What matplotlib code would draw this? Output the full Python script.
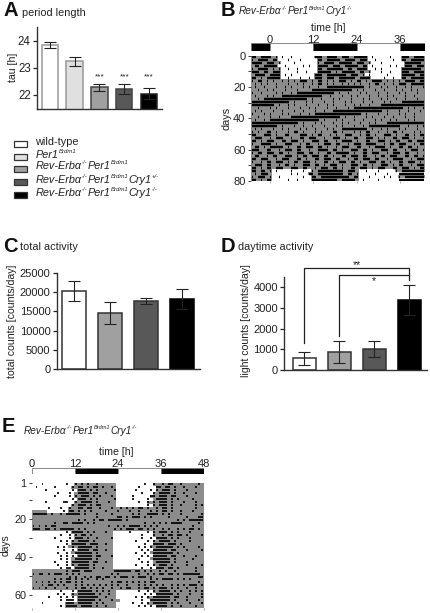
"""Period length, activity bars and actograms, five panels."""

import re

import matplotlib

matplotlib.use("Agg")
import matplotlib.pyplot as plt
from matplotlib.colors import ListedColormap
from matplotlib.patches import Rectangle

plt.rcParams["font.family"] = ["Liberation Sans", "DejaVu Sans"]
plt.rcParams["font.size"] = 8

W, H = 430, 613

GENOTYPES = [
    "wild-type",
    "Per1^{Brdm1}",
    "Rev-Erbα^{-/-}Per1^{Brdm1}",
    "Rev-Erbα^{-/-}Per1^{Brdm1}Cry1^{+/-}",
    "Rev-Erbα^{-/-}Per1^{Brdm1}Cry1^{-/-}",
]
COLORS = ["white", "#e0e0e0", "#a0a0a0", "#585858", "black"]
ACTOGRAM_TITLE = "Rev-Erbα^{-/-}Per1^{Brdm1}Cry1^{-/-}"

TAU = [23.83, 23.23, 22.27, 22.2, 22.04]
TAU_ERR = [0.12, 0.18, 0.12, 0.18, 0.2]
TAU_TICKS = [22, 23, 24]
TAU_STARS = ["", "", "***", "***", "***"]

TOTAL = [20400, 14700, 17700, 18200]
TOTAL_ERR = [2700, 2900, 700, 2600]
TOTAL_TICKS = [0, 5000, 10000, 15000, 20000, 25000]

LIGHT = [560, 880, 1020, 3380]
LIGHT_ERR = [300, 520, 370, 740]
LIGHT_TICKS = [0, 1000, 2000, 3000, 4000]

BAR_COLORS_4 = ["white", "#a0a0a0", "#585858", "black"]

B_HOURS = [0, 12, 24, 36]
B_DAYS = [0, 20, 40, 60, 80]
B_LD = [(-5.3, 0, "black"), (0, 12, "white"), (12, 24, "black"), (24, 36, "white"), (36, 42.9, "black")]

E_HOURS = [0, 12, 24, 36, 48]
E_DAYS = [1, 20, 40, 60]
E_LD = [(0, 12, "white"), (12, 24, "black"), (24, 36, "white"), (36, 48, "black")]

# hand read actograms, # activity, - gray background, . light phase without activity
B_ROWS = [
    "##-####-#.#..#.......###-####-###-#####.#.....#...###-####",
    "#-####-##...#...#.....##-#####-####-###..#.....#..##-#####",
    "####-###-#....#.......#-####-#####-###-#...#.......######-",
    "-##-#####..#.....#.#..####-###-#####-##.#.....#.#..###-###",
    "#-####-#-#..#..#......##-######-##-####..#.#......#######-",
    "###-##-###.....#..#...#####-#-#####-##-#...#..#...###-####",
    "-####-####.#.#.......###-#######-###-#.#.....#....#####-##",
    "##-#-#####..#...#..#.###-###-######-####....#..#..##-#####",
    "#-##-#-#--#-#-#-###-#-##-#-#-###-#-##-#-####-#-#-#-####-##",
    "-#-#-#--#---#--#-#--#-##-#-#--#-#-#-#--#-##-#--#-###-#####",
    "-#--#---#--#-#---#-#--#--#############-#---#-#--#--#-#---#",
    "--#--#-#---#---#----##############-#-#---#--#---#-#--#-#-",
    "#--#----#-#--#-#############-#--#---#-#---#--#---#-#---#-",
    "-#---#-#--##############--#---#--#-#---#--#--#-#---#--#---",
    "--#-###############-#--#---#-#---#---#-#---#-#--#--#---#",
    "#############-#---#-#---#--#---#-#---#--#---#-#---#########",
    "########-#--#-#---#---#--#-#---#--#-#--#---################",
    "--#---#-#---#---#--#-#---#--#---#-#################-#-#--#",
    "-#-#---#--#---#--#---#--#--#################-#---#--#---#-",
    "#---#-#---#-#---#--#-################-#---#--#---#-#--#---",
    "--#---#--#---#################-#--#---#-#---#--#---#--#---",
    "-#--#-#################-#---#-#---#--#---#-#--#-#---#-#--",
    "################-#---#-#---#--#-#---#--#-#---#############",
    "#########-#---#--#--#---#---#-#---#--#-###########--#--#-#",
    "-#-#---#--#-#---#-#--#---#-#--#########-#--#-#---#-#---#--",
    "#-#--##-#---#-##-#---#-#---##-#---#-#-##--#--#-##-#---#-#-",
    "##--###-#--##---###-#-##--#-#--###--#-##-#--###-#--##-#-##",
    "-###--#-###--#--##-###--#--###-#--##--###-#-#--##-###-#--#",
    "##-#-###--##-###-#--###-##--#-####-#--##--###-#-##--##-###",
    "#--####-#--###--#-##--#-###-##--#-###-####--#-##-###--#-##",
    "-##-#-#####-#--##-###-##-#--#-###--##--#-####-#--##-##-#--",
    "###--##--#-###-##--#--####-##-#--###-##-#--###-##--#-###-#",
    "#-##-###-##-#--###-##-#--##-#####-#--##-###--#-###-##--#--",
    "-##--#-##--###-#-##-###-##-#--##-###-##--#-##-###--##-##-#",
    "##-###--#-###--##-#--##-###-##--#-##-###-##--#-####--#-###",
    "#--#-##-###-#-##-###-#--##-#-###-##-#--###-##-#--##-###-#-",
    "-###-##--#-##-#--###-##-#-###-#--###-##-#--###-#-##--#-###",
    "##-#-##-###--###-##--#-###-##-#--##-###-#-###--##-###-#-##",
    "##-##-#.#....#...#..#-#########-###-..#...#.....#-########",
    "-#-###-......#.#...##-#########-##-#.....#...#...#########",
    "#-###-#..#.......#..##-##########-##...#....#.#..#-#######",
    "##-#-##.....#..#....#########-#####-.#....#......#########",
]

E_ROWS = [
    "...#.......#..#-#-#--#------.........#..#--#-##--#-----#-",
    ".#.....#.....#-##-#-##-#--#-.......#.....##-##-#--#---#--",
    "....#........#.###-#-#-----#......#....#.#-###-#---#-----",
    "........#...#.-####-##--#---........#...#-####-#--#---#--",
    ".......#....#.#-###-#-#---#-.....#.....##-###-##---#-----",
    ".............#.###-#-#-----#.....#....#.-####-#-#----#---",
    "....#.....##..#-####-#---#--.......#..#-#-###-#---#---#--",
    ".............#-###-#-##-----..........#.#-###-#--#----#-#",
    ".....#...#..#--##-##--#---#--#-#-#-##-#--#-##-#-------#--",
    "-----.....#.##-#-#-#----#---#---#--#---#-#-##-#--#---#---",
    "#####-#--#-#####-#---#----#------#-#--####-#-#---#------#",
    "---------------------#------##-#-###-#-#-----#-----#---##",
    "---------------#-#--#-##-#####-#----------------#-#-#####",
    "-------#--##-####-#-#----------------#--#-#-#-####-----#-",
    "#-#-#-##-----------------#--#-#-####-#-#-#-----------#---",
    "###-##-#-#####-#-#---------#-#-###-##-#-#--#-#--#-#-##-#-",
    "...........#.####-#-#---#--.....#.....#.#-###-#-#---#----",
    ".........#..#.#-##-#-------.........#...#--#-##-##-#----#",
    ".......#....#.###-#--#----#.........#..#.####-#-#---#----",
    ".........#.#.#-####-#------.......#...#.#-####-#----#----",
    "...........#.#####-###--#--..........#..####-###-#-------",
    "........#.#.-#-#####-#-----........#.#.#-######-#-#----#-",
    "..........#..#.####-##--#--.........#.#.#####-##---#----#",
    "........#..#.-######-#-----.......#..#.-#######-#--------",
    ".........#.#.#.#####-##---#.........#.#.#####-##--#---#--",
    ".........#.#.-######-#-----........#...-######-#-----#---",
    ".......#...#.######-##--#--.........#.#.-#####-#---#-----",
    "........#..#.#-####-#------.......#...#.#-###-#----#----#",
    ".........#.##.#####-#--#---.........#..#.###-##-#-----#--",
    "-----------#-###-###-------######-##-#-#--#-#--#------#---",
    "#-##-#-###-#-#-#----------#-#------#--#-#-##-##-#-######-",
    "------------#-#--#-#-##-##-#-###-#-###-#---------------##",
    "-------#-#-##-#-#-#--#-#---------------#-#-####-#-#-#----",
    "-#-#-#-#-#-##-#-#---------#-##-#-#-#-#-##--------------#-",
    "---#-##-#-#---#-#-#-#-#-#-#-#--#---#-#-#-#-#--#-#-#-###-#",
    "#-#-#--#---#--#-##-#-#-#--#--#-##--#-##-#-###-#-#--#--#--",
    ".........#...#.#####-#-#-#--.......#..#.#-####-#-#--#-#-#",
    "........#.#..#-######-#--#--.........#.#.######-#---#---#",
    ".....#...#.#.#.#######--#---......#.#.#-######-##--#----#",
    ".........#.###.######-#---#--.......#..#######-#---#---#-",
    "...#.......###-#####-#-#----.....#..#.#-#####-#-#---#---#",
    ".........#.####-####-#--#---.......#.#.#.####-#--#----#--",
]

ACTO_CMAP = ListedColormap(["white", "#8c8c8c"])


def px_axes(fig, left, top, right, bottom):
    return fig.add_axes(
        [left / W, 1 - bottom / H, (right - left) / W, (bottom - top) / H]
    )


def rich_text(ax, renderer, x, y, name, size, color="#222222"):
    """Italic text with small superscripts, set piece by piece."""
    parts = re.split(r"\^\{(.*?)\}", name)
    for i, part in enumerate(parts):
        if not part:
            continue
        sup = i % 2 == 1
        t = ax.text(
            x, y - 3.2 if sup else y, part,
            fontsize=size * 0.56 if sup else size,
            style="italic", va="center", ha="left", color=color,
        )
        x += t.get_window_extent(renderer).width + 0.2


def bar_panel(ax, values, errors, colors, edges, ticks, xlim, ylim, ylabel, labelsize=8, labelpad=1):
    x = list(range(len(values)))
    ax.bar(x, values, width=0.66, color=colors, edgecolor=edges, linewidth=1.1, zorder=2)
    ax.errorbar(
        x, values, yerr=errors, fmt="none", ecolor="#222222",
        elinewidth=0.8, capsize=4.2, capthick=0.8, zorder=3,
    )
    ax.set_xlim(*xlim)
    ax.set_ylim(*ylim)
    ax.set_xticks([])
    ax.set_yticks(ticks)
    ax.tick_params(axis="y", length=3, width=0.9, pad=1.5, labelsize=labelsize, colors="#222222")
    ax.spines[["top", "right"]].set_visible(False)
    ax.spines[["left", "bottom"]].set_linewidth(1.0)
    ax.spines[["left", "bottom"]].set_color("#333333")
    ax.set_ylabel(ylabel, fontsize=7.6, labelpad=labelpad, color="#222222")
    ax.patch.set_alpha(0)


def actogram(ax, rows, extent, dash_px):
    width = len(rows[0])
    rows = [row.ljust(width, "-")[:width] for row in rows]
    xmin, xmax, ymax, ymin = extent
    cell_x = (xmax - xmin) / width
    cell_y = (ymax - ymin) / len(rows)

    background = []
    for row in rows:
        cells = []
        for col, c in enumerate(row):
            if c == "#":
                # an activity dash sits on the phase around it
                left = row[:col].replace("#", "")[-1:]
                right = row[col + 1:].replace("#", "")[:1]
                c = "." if "." in (left, right) and "-" not in (left, right) else "-"
            cells.append(0 if c == "." else 1)
        background.append(cells)
    ax.imshow(background, cmap=ACTO_CMAP, vmin=0, vmax=1, aspect="auto", extent=extent, interpolation="nearest")

    for r, row in enumerate(rows):
        for match in re.finditer("#+", row):
            ax.hlines(
                ymin + (r + 0.5) * cell_y,
                xmin + (match.start() + 0.18) * cell_x,
                xmin + (match.end() - 0.18) * cell_x,
                color="black", linewidth=dash_px * 0.72, capstyle="butt",
            )
    ax.set_xlim(xmin, xmax)
    ax.set_ylim(ymax, ymin)
    for side in ["top", "right", "left", "bottom"]:
        ax.spines[side].set_visible(False)
    ax.tick_params(axis="x", which="both", length=1.5, width=0.5, color="#888888", labelbottom=False)


def ld_bar(ax, segments, hours, xlim, pad):
    for start, end, color in segments:
        ax.barh(0, end - start, left=start, height=1, color=color, edgecolor="#777777", linewidth=0.6)
    ax.set_xlim(*xlim)
    ax.set_ylim(-0.5, 0.5)
    ax.set_yticks([])
    ax.set_xticks(hours)
    ax.xaxis.tick_top()
    ax.tick_params(axis="x", length=0, pad=pad, labelsize=8, colors="#222222")
    for side in ["top", "right", "left", "bottom"]:
        ax.spines[side].set_visible(False)


def main():
    fig = plt.figure(figsize=(W / 100, H / 100), dpi=100)
    renderer = fig.canvas.get_renderer()

    overlay = fig.add_axes([0, 0, 1, 1])
    overlay.set_xlim(0, W)
    overlay.set_ylim(H, 0)
    overlay.axis("off")

    # panel letters and headings
    for letter, lx, ly in [("A", 4, 11), ("B", 221, 11), ("C", 3, 246), ("D", 221, 246), ("E", 2, 427)]:
        overlay.text(lx, ly, letter, fontsize=14.5, fontweight="bold", va="center", ha="left", color="#111111")
    for title, tx, ty in [("period length", 21.5, 12.5), ("total activity", 20, 247), ("daytime activity", 238.5, 247)]:
        overlay.text(tx, ty, title, fontsize=7.8, va="center", ha="left", color="#222222")
    rich_text(overlay, renderer, 239, 11.5, ACTOGRAM_TITLE, 7.2)
    rich_text(overlay, renderer, 24, 430.5, ACTOGRAM_TITLE, 7.2)
    overlay.text(328, 28, "time [h]", fontsize=7.6, va="center", ha="center", color="#222222")
    overlay.text(116.5, 452, "time [h]", fontsize=7.6, va="center", ha="center", color="#222222")

    # legend
    for name, color, by, ty in zip(GENOTYPES, COLORS, [144, 157, 169, 182, 195], [142, 154.5, 166, 180, 193]):
        overlay.add_patch(Rectangle((13.5, by - 3.3), 13, 6.6, facecolor=color, edgecolor="#333333", linewidth=0.9))
        if name == "wild-type":
            overlay.text(35.5, ty, name, fontsize=7.8, va="center", ha="left", color="#222222")
        else:
            rich_text(overlay, renderer, 35.5, ty, name, 7.8)

    # A
    ax = px_axes(fig, 37, 27, 162, 108.5)
    edges = ["#999999", "#999999", "#444444", "#444444", "#222222"]
    bar_panel(ax, TAU, TAU_ERR, COLORS, edges, TAU_TICKS, (-0.516, 4.52), (21.49, 24.5), "tau [h]", labelsize=8.3, labelpad=-0.2)
    for i, stars in enumerate(TAU_STARS):
        if stars:
            ax.text(i, 22.52, stars, ha="center", va="bottom", fontsize=6, color="#222222")

    # C
    ax = px_axes(fig, 56.7, 273.3, 200, 368.7)
    edges = ["#333333", "#333333", "#333333", "black"]
    bar_panel(ax, TOTAL, TOTAL_ERR, BAR_COLORS_4, edges, TOTAL_TICKS, (-0.49, 3.49), (0, 25000), "total counts [counts/day]", labelpad=2.3)

    # D
    ax = px_axes(fig, 284.3, 276.7, 426.7, 370)
    bar_panel(ax, LIGHT, LIGHT_ERR, BAR_COLORS_4, edges, LIGHT_TICKS, (-0.57, 3.5), (0, 4500), "light counts [counts/day]")
    ax.yaxis.set_label_coords(-0.235, 0.53)
    ax.plot([0, 0, 3, 3], [1290, 4920, 4920, 4350], color="#222222", lw=0.9, clip_on=False, zorder=4)
    ax.plot([1, 1, 3], [1660, 4580, 4580], color="#222222", lw=0.9, clip_on=False, zorder=4)
    ax.text(1.5, 4800, "**", ha="center", va="bottom", fontsize=7.5, color="#222222")
    ax.text(2.0, 4050, "*", ha="center", va="bottom", fontsize=7.5, color="#222222")

    # B
    ax = px_axes(fig, 251, 55.5, 425, 181)
    actogram(ax, B_ROWS, (-5.3, 42.9, 80, 0), 2.4)
    ax.set_xticks(B_HOURS)
    ax.set_yticks(B_DAYS)
    ax.set_yticks([10, 30, 50, 70], minor=True)
    ax.tick_params(axis="y", which="both", length=2.5, width=0.6, pad=1.5, labelsize=8, colors="#222222")
    ax.set_ylabel("days", fontsize=7.8, labelpad=1, color="#222222")
    bar = px_axes(fig, 251, 43, 425, 50.5)
    ld_bar(bar, B_LD, B_HOURS, (-5.3, 42.9), -1.7)

    # E
    ax = px_axes(fig, 32, 483, 203.5, 607.7)
    actogram(ax, E_ROWS, (0, 48, 66.7, 1), 1.7)
    ax.set_xticks(E_HOURS)
    ax.set_yticks(E_DAYS)
    ax.set_yticks([10, 30, 50], minor=True)
    ax.tick_params(axis="y", which="both", length=2.5, width=0.6, pad=1.5, labelsize=7.8, colors="#222222")
    ax.set_ylabel("days", fontsize=7.4, labelpad=3, color="#222222")
    bar = px_axes(fig, 32, 468, 203.5, 474)
    ld_bar(bar, E_LD, E_HOURS, (0, 48), -1)

    fig.savefig("out.png", dpi=100)


main()
